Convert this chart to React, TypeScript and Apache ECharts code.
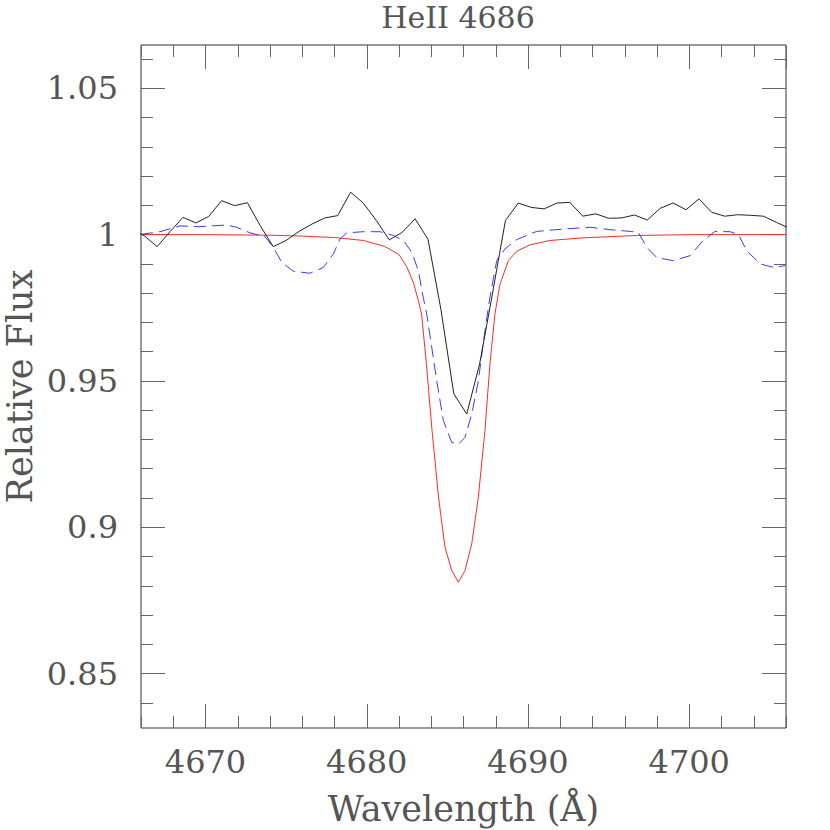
import React, { useEffect, useRef } from "react";
import * as echarts from "echarts";

// Observed spectrum (black)
const obsWave = [
  4665.4, 4666.2, 4667.0, 4667.8, 4668.6, 4669.4, 4670.2, 4671.0, 4671.8, 4672.6,
  4673.4, 4674.2, 4675.0, 4675.8, 4676.6, 4677.4, 4678.2, 4679.0, 4679.8, 4680.6,
  4681.4, 4682.2, 4683.0, 4683.8, 4684.6, 4685.4, 4686.2, 4687.0, 4687.8, 4688.6,
  4689.4, 4690.2, 4691.0, 4691.8, 4692.6, 4693.4, 4694.2, 4695.0, 4695.8, 4696.6,
  4697.4, 4698.2, 4699.0, 4699.8, 4700.6, 4701.4, 4702.2, 4703.0, 4703.8, 4704.6,
  4705.4, 4706.2,
];
const obsFlux = [
  1.002, 0.9996, 0.9959, 1.001, 1.0059, 1.004, 1.0062, 1.0116, 1.0099, 1.0109,
  1.003, 0.9959, 0.998, 1.0011, 1.0036, 1.0057, 1.0065, 1.0145, 1.0107, 1.0048,
  0.9982, 1.0008, 1.0054, 0.9984, 0.9744, 0.9456, 0.9387, 0.9558, 0.98, 1.0048,
  1.0108, 1.0093, 1.0088, 1.0108, 1.011, 1.0063, 1.0071, 1.0056, 1.0057, 1.0067,
  1.005, 1.009, 1.0108, 1.0085, 1.0122, 1.0076, 1.0063, 1.0068, 1.0066, 1.0063,
  1.0042, 1.0022,
];

// Model 1 (red, solid)
const redWave = [
  4666.0, 4670.0, 4674.0, 4676.0, 4678.0, 4679.8, 4681.1, 4682.0, 4682.5, 4682.9,
  4683.2, 4683.4, 4683.7, 4684.05, 4684.45, 4684.85, 4685.27, 4685.68, 4686.09, 4686.51,
  4686.92, 4687.33, 4687.64, 4687.95, 4688.26, 4688.78, 4689.3, 4690.12, 4691.36, 4693.43,
  4696.74, 4700.0, 4706.0,
];
const redFlux = [
  1.0, 1.0, 0.9998, 0.9995, 0.999, 0.998, 0.996, 0.9932, 0.9888, 0.9835,
  0.9775, 0.9729, 0.9558, 0.933, 0.9103, 0.8932, 0.8852, 0.8812, 0.8852, 0.8943,
  0.9103, 0.933, 0.9558, 0.9729, 0.983, 0.9911, 0.9943, 0.9965, 0.998, 0.9989,
  0.9997, 1.0, 1.0,
];

// Model 2 (blue, dashed)
const blueWave = [
  4666.0, 4667.18, 4668.42, 4669.6, 4671.3, 4671.93, 4672.76, 4673.69, 4674.2, 4674.73,
  4675.45, 4676.48, 4677.31, 4677.93, 4678.34, 4678.76, 4679.79, 4680.82, 4681.65, 4682.27,
  4682.79, 4683.2, 4683.5, 4683.72, 4684.03, 4684.34, 4684.75, 4685.27, 4685.68, 4686.09,
  4686.51, 4686.92, 4687.33, 4687.64, 4688.06, 4688.57, 4689.3, 4690.54, 4692.19, 4693.84,
  4695.08, 4696.33, 4696.84, 4697.36, 4697.98, 4699.01, 4700.05, 4700.87, 4701.6, 4702.53,
  4703.05, 4703.57, 4704.39, 4705.22, 4705.94,
];
const blueFlux = [
  1.0001, 1.001, 1.003, 1.0027, 1.0033, 1.0025, 1.0006, 0.9993, 0.9957, 0.9905,
  0.9875, 0.9868, 0.9888, 0.9934, 0.9985, 1.0006, 1.001, 1.001, 0.9997, 0.998,
  0.994, 0.9877, 0.9786, 0.9729, 0.9615, 0.95, 0.9365, 0.929, 0.9283, 0.9307,
  0.9387, 0.95, 0.9672, 0.9786, 0.9911, 0.9951, 0.9983, 1.0011, 1.0019, 1.0025,
  1.0017, 1.0011, 1.0008, 0.9957, 0.9922, 0.9911, 0.9928, 0.998, 1.0011, 1.001,
  1.0, 0.9945, 0.99, 0.9888, 0.9894,
];

const titleText = "HeII 4686";
const xName = "Wavelength (Å)";
const yName = "Relative Flux";

const X_MIN = 4666;
const X_MAX = 4706;
const Y_MIN = 0.8314;
const Y_MAX = 1.0648;

export default function App() {
  const ref = useRef<HTMLDivElement>(null);
  useEffect(() => {
    document.body.style.margin = "0";
    if (!ref.current) return;
    const chart = echarts.init(ref.current, undefined, { renderer: "svg" });

    const L = 141, T = 45, W = 645, H = 683;
    const pxPerY = H / (Y_MAX - Y_MIN);
    const pxPerX = W / (X_MAX - X_MIN);
    const yPx = (v: number) => T + (Y_MAX - v) * pxPerY;

    const font = "DejaVu Serif";
    const txtColor = "#555";
    const tickColor = "#666";

    const gridBase = { containLabel: false, outerBoundsMode: "none" };

    const hiddenAxis = (gi: number) => ({
      type: "value", gridIndex: gi, show: false, min: 0, max: 1,
    });

    const tickAxis = (extra: any) => ({
      type: "value",
      axisLine: { show: false },
      splitLine: { show: false },
      axisTick: { show: true, inside: true, length: 12, lineStyle: { color: tickColor, width: 1 } },
      axisLabel: { show: false },
      ...extra,
    });

    const labelStyle = { fontFamily: font, fontSize: 32, color: txtColor };
    const majorTick = { show: true, inside: true, length: 24, lineStyle: { color: tickColor, width: 1 } };

    const option: any = {
      animation: false,
      backgroundColor: "#fff",
      graphic: [
        {
          type: "text",
          x: 458,
          y: 17,
          style: {
            text: titleText,
            fontFamily: font,
            fontSize: 30,
            lineHeight: 28,
            fill: txtColor,
            align: "center",
            verticalAlign: "middle",
          },
        },
      ],
      grid: [
        { ...gridBase, left: L, top: T, width: W, height: H, show: true, borderColor: "#333", borderWidth: 1, backgroundColor: "transparent" },
        { ...gridBase, left: L + (4670 - X_MIN) * pxPerX, top: T, width: (X_MAX - 4670) * pxPerX, height: H },
        { ...gridBase, left: L, top: yPx(1.06), width: W, height: (1.06 - 0.84) * pxPerY },
        { ...gridBase, left: L, top: yPx(1.05), width: W, height: (1.05 - 0.85) * pxPerY },
      ],
      xAxis: [
        tickAxis({
          gridIndex: 0, position: "bottom", min: X_MIN, max: X_MAX, interval: 2,
          name: xName, nameLocation: "middle", nameGap: 63,
          nameTextStyle: { fontFamily: font, fontSize: 35, color: txtColor },
        }),
        tickAxis({ gridIndex: 0, position: "top", min: X_MIN, max: X_MAX, interval: 2 }),
        tickAxis({
          gridIndex: 1, position: "bottom", min: 4670, max: X_MAX, interval: 10,
          axisTick: majorTick,
          axisLabel: {
            show: true, margin: 18, showMaxLabel: false, ...labelStyle,
            formatter: (v: number) => (Math.round(v) % 10 === 0 ? String(Math.round(v)) : ""),
          },
        }),
        tickAxis({
          gridIndex: 1, position: "top", min: 4670, max: X_MAX, interval: 10,
          axisTick: majorTick,
        }),
        hiddenAxis(2),
        hiddenAxis(3),
      ],
      yAxis: [
        {
          type: "value", gridIndex: 0, min: Y_MIN, max: Y_MAX,
          axisLine: { show: false }, axisTick: { show: false }, axisLabel: { show: false },
          splitLine: { show: false },
          name: yName, nameLocation: "middle", nameGap: 104,
          nameTextStyle: { fontFamily: font, fontSize: 35, color: txtColor },
        },
        hiddenAxis(1),
        tickAxis({ gridIndex: 2, position: "left", min: 0.84, max: 1.06, interval: 0.01 }),
        tickAxis({ gridIndex: 2, position: "right", min: 0.84, max: 1.06, interval: 0.01 }),
        tickAxis({
          gridIndex: 3, position: "left", min: 0.85, max: 1.05, interval: 0.05,
          axisTick: majorTick,
          axisLabel: {
            show: true, margin: 23, ...labelStyle,
            formatter: (v: number) => String(+v.toFixed(2)),
          },
        }),
        tickAxis({
          gridIndex: 3, position: "right", min: 0.85, max: 1.05, interval: 0.05,
          axisTick: majorTick,
        }),
      ],
      series: [
        {
          type: "line", xAxisIndex: 0, yAxisIndex: 0, symbol: "none", clip: true,
          lineStyle: { color: "#ff2a2a", width: 1 },
          data: redWave.map((w, i) => [w, redFlux[i]]),
        },
        {
          type: "line", xAxisIndex: 0, yAxisIndex: 0, symbol: "none", clip: true,
          lineStyle: { color: "#3a3aff", width: 1, type: [12, 6] },
          data: blueWave.map((w, i) => [w, blueFlux[i]]),
        },
        {
          type: "line", xAxisIndex: 0, yAxisIndex: 0, symbol: "none", clip: true,
          lineStyle: { color: "#222", width: 1 },
          data: obsWave.map((w, i) => [w, obsFlux[i]]),
        },
      ],
    };
    chart.setOption(option);
    return () => chart.dispose();
  }, []);
  return <div ref={ref} style={{ width: 830, height: 830 }} />;
}
